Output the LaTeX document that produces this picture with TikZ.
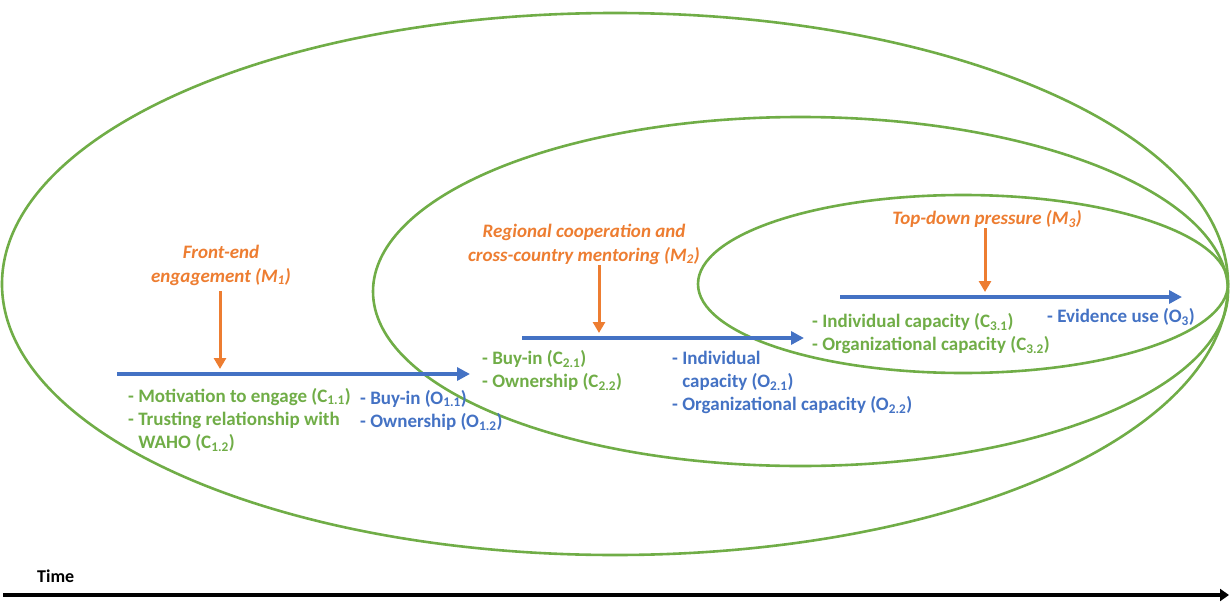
\documentclass[tikz,border=0pt]{standalone}
\usepackage{fontspec}
\setmainfont{Carlito}
\usetikzlibrary{arrows.meta}

\definecolor{ringgreen}{HTML}{70AD47}
\definecolor{flowblue}{HTML}{4472C4}
\definecolor{mechorange}{HTML}{ED7D31}
\newcommand{\subidx}[1]{\textsubscript{#1}}
\newcommand{\dashpad}{\phantom{-\ }}

\begin{document}
\begin{tikzpicture}[x=1pt, y=-1pt,
    every node/.style={font=\fontsize{19}{23}\selectfont\bfseries, inner sep=0pt},
    ring/.style={draw=ringgreen, line width=2.6pt},
    flow/.style={draw=flowblue, line width=4pt, -{Triangle[length=13pt,width=13pt]}},
    push/.style={draw=mechorange, line width=3pt, -{Triangle[length=11pt,width=12pt]}},
    cond/.style={text=ringgreen, anchor=north west, align=left},
    outc/.style={text=flowblue, anchor=north west, align=left},
    mech/.style={text=mechorange, anchor=north, align=center,
                 font=\fontsize{19}{23.5}\selectfont\bfseries\itshape}]

            \useasboundingbox (0,0) rectangle (1231,602);

            % Rings
            \draw[ring] (615,284) ellipse [x radius=613, y radius=271];
            \draw[ring] (800.5,291.5) ellipse [x radius=427.5, y radius=174.5];
            \draw[ring] (963,284) ellipse [x radius=265, y radius=89];

            % Points
            \coordinate (F1s) at (117,374);
            \coordinate (F1e) at (470,374);
            \coordinate (F2s) at (522,338);
            \coordinate (F2e) at (804,338);
            \coordinate (F3s) at (840,297);
            \coordinate (F3e) at (1182,297);
            \coordinate (P1e) at (220,369);
            \coordinate (P2e) at (599,333);
            \coordinate (P3e) at (985,292);
            \coordinate (T0) at (3,595);
            \coordinate (T1) at (1229,595);

            % Mechanisms
            \node[mech] at (221,245) (M1) {Front-end\\engagement (M\subidx{1})};
            \node[mech] at (584,224) (M2) {Regional cooperation and\\cross-country mentoring (M\subidx{2})};
            \node[mech] at (987,210) (M3) {Top-down pressure (M\subidx{3})};

            % Contexts
            \node[cond] at (128,388) (C1) {- Motivation to engage (C\subidx{1.1})\\- Trusting relationship with\\\dashpad WAHO (C\subidx{1.2})};
            \node[cond] at (482,350) (C2) {- Buy-in (C\subidx{2.1})\\- Ownership (C\subidx{2.2})};
            \node[cond] at (812,313) (C3) {- Individual capacity (C\subidx{3.1})\\- Organizational capacity (C\subidx{3.2})};

            % Outcomes
            \node[outc] at (360,390) (O1) {- Buy-in (O\subidx{1.1})\\- Ownership (O\subidx{1.2})};
            \node[outc] at (672,351) (O2) {- Individual\\\dashpad capacity (O\subidx{2.1})\\- Organizational capacity (O\subidx{2.2})};
            \node[outc] at (1047,308) (O3) {- Evidence use (O\subidx{3})};

            % Time
            \node[anchor=north west, font=\fontsize{18}{22}\selectfont\bfseries] at (37,570) (T) {Time};

            % Lines
            \draw[flow] (F1s) -- (F1e);
            \draw[flow] (F2s) -- (F2e);
            \draw[flow] (F3s) -- (F3e);

            \draw[push] ([yshift=-6pt]M1.south -| P1e) -- (P1e);
            \draw[push] ([yshift=-1pt]M2.south -| P2e) -- (P2e);
            \draw[push] ([yshift=-1pt]M3.south -| P3e) -- (P3e);

            \draw[line width=4pt, -{Triangle[length=9pt,width=12pt]}] (T0) -- (T1);

        \end{tikzpicture}
\end{document}
